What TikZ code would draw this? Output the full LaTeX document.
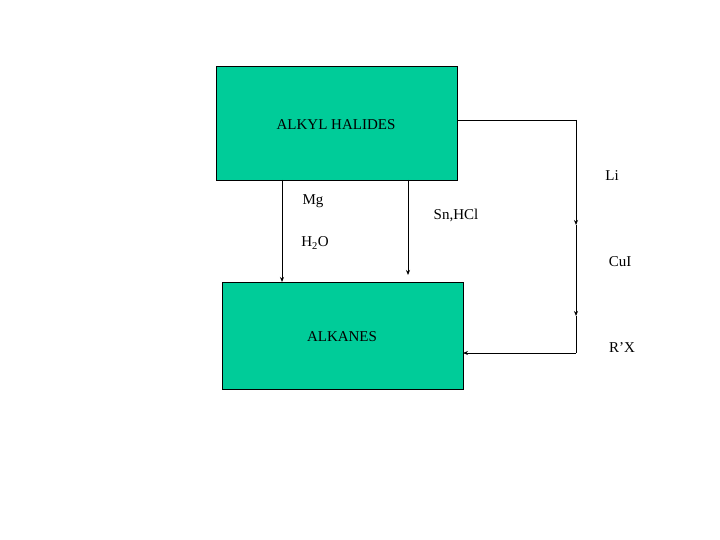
\documentclass[tikz,border=0pt]{standalone}
\usepackage{fontspec}
\setmainfont{Liberation Serif}
\usetikzlibrary{arrows.meta}
\definecolor{boxg}{HTML}{00CC99}
\begin{document}
\begin{tikzpicture}[x=1pt,y=-1pt,
  bx/.style={draw=black,fill=boxg,line width=0.6pt},
  lbl/.style={font=\fontsize{15}{18}\selectfont,inner sep=0pt},
  ar/.style={line width=0.9pt,-{Stealth[length=5pt,width=4pt]}},
  ln/.style={line width=0.9pt}]
\useasboundingbox (0,0) rectangle (720,540);
\fill[white] (0,0) rectangle (720,540);
\draw[bx] (216,66) rectangle (457,180);
\draw[bx] (222,282) rectangle (463,389);
\node[lbl] (top) at (336,125) {ALKYL HALIDES};
\node[lbl] (bot) at (342,337) {ALKANES};
\coordinate (a1) at (282,180); \coordinate (a2) at (282,282);
\coordinate (b1) at (408,180); \coordinate (b2) at (408,275);
\draw[ar] (a1) -- (a2);
\draw[ar] (b1) -- (b2);
\coordinate (r0) at (457,120); \coordinate (r1) at (576,120);
\coordinate (r2) at (576,225); \coordinate (r3) at (576,316);
\coordinate (r4) at (576,353); \coordinate (r5) at (463,353);
\draw[ln] (r0) -- (r1);
\draw[ar] (r1) -- (r2);
\draw[ar] (r2) -- (r3);
\draw[ln] (r3) -- (r4);
\draw[ar] (r4) -- (r5);
\node[lbl] (mg) at (313,201) {Mg};
\node[lbl] (h2o) at (315,243) {H\textsubscript{2}O};
\node[lbl] (sn) at (456,215) {Sn,HCl};
\node[lbl] (li) at (612,176) {Li};
\node[lbl] (cui) at (620,262) {CuI};
\node[lbl] (rx) at (622,348) {R’X};
\end{tikzpicture}
\end{document}
